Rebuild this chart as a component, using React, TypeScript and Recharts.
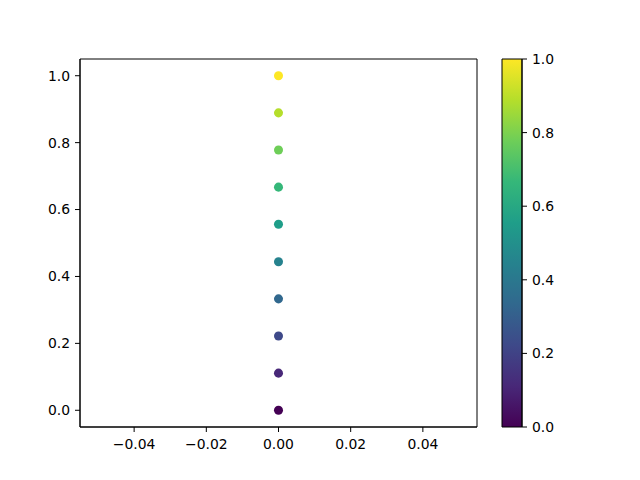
import { ScatterChart, Scatter, XAxis, YAxis, ZAxis, Cell, ReferenceArea, BarChart, Bar } from "recharts";

const xValues = [0, 0, 0, 0, 0, 0, 0, 0, 0, 0];
const yValues = [0, 0.111, 0.222, 0.333, 0.444, 0.556, 0.667, 0.778, 0.889, 1.0];
const pointColors = ["#440154", "#482878", "#3e4989", "#31688e", "#26828e", "#1f9e89", "#35b779", "#6ece58", "#b5de2b", "#fde725"];
const xTicks = [-0.04, -0.02, 0, 0.02, 0.04];
const yTicks = [0, 0.2, 0.4, 0.6, 0.8, 1.0];
const cbarTicks = [0, 0.2, 0.4, 0.6, 0.8, 1.0];

const points = xValues.map((x, i) => ({ x, y: yValues[i] }));
const cbarData = [{ name: "cbar", v: 1 }];

const tickStyle = { fontSize: 13.9, fill: "#000", fontFamily: "DejaVu Sans" };
const axisLine = { stroke: "#000", strokeWidth: 1 };

export default function App() {
  return (
    <div style={{ position: "relative", width: 640, height: 480, margin: -8, background: "#fff" }}>
      <div style={{ position: "absolute", left: 0, top: 0 }}>
        <ScatterChart width={640} height={480} margin={{ top: 59, right: 163, bottom: 0, left: 0 }}>
          <XAxis
            type="number"
            dataKey="x"
            domain={[-0.055, 0.055]}
            ticks={xTicks}
            tickFormatter={(v: number) => v.toFixed(2).replace("-", "\u2212")}
            tick={tickStyle}
            tickSize={5}
            tickMargin={7}
            height={53}
            axisLine={axisLine}
            tickLine={{ stroke: "#000" }}
            allowDataOverflow
          />
          <YAxis
            type="number"
            dataKey="y"
            domain={[-0.05, 1.05]}
            ticks={yTicks}
            tickFormatter={(v: number) => v.toFixed(1)}
            tick={tickStyle}
            tickSize={5}
            tickMargin={5}
            width={80}
            axisLine={axisLine}
            tickLine={{ stroke: "#000" }}
            allowDataOverflow
          />
          <ZAxis range={[62, 62]} />
          <ReferenceArea x1={-0.055} x2={0.055} y1={-0.05} y2={1.05} fill="none" stroke="#000" strokeWidth={1} ifOverflow="visible" />
          <Scatter data={points} isAnimationActive={false}>
            {points.map((p, i) => (
              <Cell key={i} fill={pointColors[i]} />
            ))}
          </Scatter>
        </ScatterChart>
      </div>
      <div style={{ position: "absolute", left: 0, top: 0 }}>
        <BarChart width={640} height={480} data={cbarData} margin={{ top: 59, right: 0, bottom: 53, left: 502 }} barCategoryGap={0}>
          <defs>
            <linearGradient id="viridis" x1="0" y1="1" x2="0" y2="0">
              {pointColors.map((c, i) => (
                <stop key={i} offset={`${(i / (pointColors.length - 1)) * 100}%`} stopColor={c} />
              ))}
            </linearGradient>
          </defs>
          <XAxis dataKey="name" hide />
          <YAxis
            orientation="right"
            type="number"
            domain={[0, 1]}
            ticks={cbarTicks}
            tickFormatter={(v: number) => v.toFixed(1)}
            tick={{ ...tickStyle, textAnchor: "start" }}
            tickSize={5}
            tickMargin={5}
            width={118}
            axisLine={axisLine}
            tickLine={{ stroke: "#000" }}
          />
          <Bar dataKey="v" fill="url(#viridis)" stroke="#000" strokeWidth={1} isAnimationActive={false} />
        </BarChart>
      </div>
    </div>
  );
}
